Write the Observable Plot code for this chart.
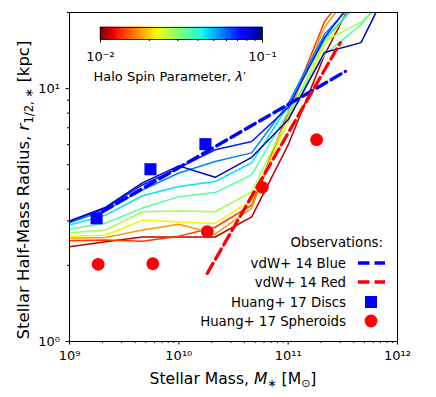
<!DOCTYPE html>
<html><head><meta charset="utf-8">
<script src="https://cdn.jsdelivr.net/npm/d3@7"></script>
<script src="https://cdn.jsdelivr.net/npm/@observablehq/plot@0.6"></script>
<style>
body{margin:0;background:#fff;}
#wrap{position:relative;width:436px;height:397px;font-family:"DejaVu Sans",sans-serif;}
#cbar{position:absolute;left:80px;top:26px;}
</style>
</head><body><div id="wrap"><div id="cbar"></div></div>
<script>
// ---- data ----
const masses = [1e9, 2.15e9, 4.64e9, 1e10, 2.15e10, 4.64e10, 1e11, 2.15e11, 4.64e11, 1e12];
const spins = [0.0112, 0.0141, 0.0178, 0.0224, 0.0282, 0.0355, 0.0447, 0.0562, 0.0708, 0.0891];
const radiusSpin1  = [2.37, 2.48, 2.59, 2.59, 2.59, 3.11, 5.99, 13.6, 25.9, 40];
const radiusSpin2  = [2.50, 2.52, 2.49, 2.61, 2.83, 3.46, 8.10, 18.4, 28.3, 40];
const radiusSpin3  = [2.56, 2.58, 2.76, 2.91, 2.66, 3.37, 7.89, 17.5, 27.1, 40];
const radiusSpin4  = [2.61, 2.63, 3.02, 2.97, 2.93, 3.63, 7.40, 14.9, 23.6, 40];
const radiusSpin5  = [2.69, 2.76, 3.26, 3.28, 3.26, 3.90, 7.67, 15.4, 18.3, 24.7];
const radiusSpin6  = [2.78, 2.94, 3.37, 3.74, 3.88, 4.56, 8.10, 13.6, 17.9, 27.1];
const radiusSpin7  = [2.89, 3.16, 3.77, 4.10, 4.29, 5.09, 8.56, 15.6, 22.5, 40];
const radiusSpin8  = [2.95, 3.31, 3.97, 4.64, 5.15, 5.57, 8.72, 16.4, 23.6, 40];
const radiusSpin9  = [2.98, 3.37, 4.16, 4.86, 5.73, 6.18, 8.41, 15.9, 24.7, 40];
const radiusSpin10 = [3.00, 3.40, 4.24, 4.95, 4.46, 5.35, 7.53, 13.9, 15.2, 29.7];
const radiusLines = [radiusSpin1, radiusSpin2, radiusSpin3, radiusSpin4, radiusSpin5,
                     radiusSpin6, radiusSpin7, radiusSpin8, radiusSpin9, radiusSpin10];

const discMass = [1.77e9, 5.5e9, 1.75e10];
const discRadius = [3.07, 4.80, 6.03];
const spheroidMass = [1.83e9, 5.78e9, 1.82e10, 5.8e10, 1.82e11];
const spheroidRadius = [2.02, 2.03, 2.72, 4.07, 6.28];
const vdwBlueMass = [2.0e9, 3.34e11];
const vdwBlueRadius = [3.26, 11.7];
const vdwRedMass = [1.82e10, 3.0e11];
const vdwRedRadius = [1.86, 15.2];

const xTicks = [1e9, 1e10, 1e11, 1e12];
const xTickLabels = ["10⁹", "10¹⁰", "10¹¹", "10¹²"];
const yTicks = [1, 10];
const yTickLabels = ["10⁰", "10¹"];
const cbTicks = [0.01, 0.1];
const cbTickLabels = ["10⁻²", "10⁻¹"];
const legendLabels = ["vdW+ 14 Blue", "vdW+ 14 Red", "Huang+ 17 Discs", "Huang+ 17 Spheroids"];

// ---- build tables ----
const modelRows = [];
spins.forEach((s, i) => masses.forEach((m, j) => modelRows.push({spin: s, mass: m, r: radiusLines[i][j]})));
const discs = discMass.map((m, i) => ({mass: m, r: discRadius[i]}));
const spheroids = spheroidMass.map((m, i) => ({mass: m, r: spheroidRadius[i]}));
const vdwBlue = vdwBlueMass.map((m, i) => ({mass: m, r: vdwBlueRadius[i]}));
const vdwRed = vdwRedMass.map((m, i) => ({mass: m, r: vdwRedRadius[i]}));

const minorX = [];
for (const d of [1e9, 1e10, 1e11]) for (let k = 2; k <= 9; k++) minorX.push(k * d);
const minorY = [2,3,4,5,6,7,8,9,20];
const minorCb = [0.02,0.03,0.04,0.05,0.06,0.07,0.08,0.09];

// matplotlib jet, reversed
const jr = d3.scaleLinear().domain([0,0.35,0.66,0.89,1]).range([0,0,1,1,0.5]).clamp(true);
const jg = d3.scaleLinear().domain([0,0.125,0.375,0.64,0.91,1]).range([0,0,1,1,0,0]).clamp(true);
const jb = d3.scaleLinear().domain([0,0.11,0.34,0.65,1]).range([0.5,1,1,0,0]).clamp(true);
const jetR = t => { const u = 1 - t; return d3.rgb(255*jr(u), 255*jg(u), 255*jb(u)).formatHex(); };
const colorScale = {type: "log", domain: [0.01, 0.1], interpolate: jetR};

const dash = "11.5,5";
const plot = Plot.plot({
  width: 436, height: 397,
  marginLeft: 69, marginRight: 39, marginTop: 12, marginBottom: 56,
  style: {fontFamily: "DejaVu Sans", fontSize: "13px", background: "white", color: "black"},
  x: {type: "log", domain: [1e9, 1e12]},
  y: {type: "log", domain: [1, 20]},
  color: colorScale,
  marks: [
    Plot.line(modelRows, {x: "mass", y: "r", z: "spin", stroke: "spin", strokeWidth: 1.5, clip: true}),
    Plot.line(vdwBlue, {x: "mass", y: "r", stroke: "#0000ff", strokeWidth: 3.3, strokeDasharray: dash, clip: true}),
    Plot.line(vdwRed, {x: "mass", y: "r", stroke: "#ff0000", strokeWidth: 3.3, strokeDasharray: dash, clip: true}),
    Plot.dot(discs, {x: "mass", y: "r", symbol: "square", r: 6.8, fill: "#0000ff", stroke: "none"}),
    Plot.dot(spheroids, {x: "mass", y: "r", symbol: "circle", r: 6.4, fill: "#ff0000", stroke: "none"}),
    Plot.axisX({ticks: minorX, tickSize: 2, tickFormat: () => "", label: null}),
    Plot.axisX({ticks: xTicks, tickSize: 3.5, tickPadding: 6, fontSize: 13, tickFormat: d => xTickLabels[xTicks.indexOf(d)], label: null}),
    Plot.axisY({ticks: minorY, tickSize: 2, tickFormat: () => "", label: null}),
    Plot.axisY({ticks: yTicks, tickSize: 3.5, tickPadding: 6, fontSize: 13, tickFormat: d => yTickLabels[yTicks.indexOf(d)], label: null}),
    Plot.frame({stroke: "black", strokeWidth: 1})
  ]
});
document.getElementById("wrap").insertBefore(plot, document.getElementById("cbar"));
const svg = d3.select(plot);

// axis labels
const xl = svg.append("text").attr("x", 233).attr("y", 384).attr("text-anchor", "middle")
  .style("font-size", "15.6px").attr("fill", "black");
xl.append("tspan").text("Stellar Mass, ");
xl.append("tspan").attr("font-style", "italic").text("M");
xl.append("tspan").style("font-size", "11px").attr("dy", 3).text("∗");
xl.append("tspan").attr("dy", -3).text(" [M");
xl.append("tspan").style("font-size", "11px").attr("dy", 3).text("⊙");
xl.append("tspan").attr("dy", -3).text("]");

const yl = svg.append("text").attr("transform", "translate(29,190) rotate(-90)").attr("text-anchor", "middle")
  .style("font-size", "16.5px").attr("fill", "black");
yl.append("tspan").text("Stellar Half-Mass Radius, ");
yl.append("tspan").attr("font-style", "italic").text("r");
yl.append("tspan").style("font-size", "11.6px").attr("dy", 3.6).text("1/2, ∗");
yl.append("tspan").attr("dy", -3.6).text(" [kpc]");

// legend
const lg = svg.append("g").style("font-size", "13.3px").attr("fill", "black");
lg.append("text").attr("x", 383).attr("y", 247).attr("text-anchor", "end").text("Observations:");
const rowsY = [263, 282, 302, 321];
legendLabels.forEach((t, i) =>
  lg.append("text").attr("x", 346).attr("y", rowsY[i] + 4.5).attr("text-anchor", "end").text(t));
lg.append("line").attr("x1", 358).attr("x2", 385).attr("y1", rowsY[0]).attr("y2", rowsY[0])
  .attr("stroke", "#0000ff").attr("stroke-width", 3.3).attr("stroke-dasharray", dash);
lg.append("line").attr("x1", 358).attr("x2", 385).attr("y1", rowsY[1]).attr("y2", rowsY[1])
  .attr("stroke", "#ff0000").attr("stroke-width", 3.3).attr("stroke-dasharray", dash);
lg.append("rect").attr("x", 365).attr("y", rowsY[2] - 6).attr("width", 12).attr("height", 12).attr("fill", "#0000ff");
lg.append("circle").attr("cx", 371).attr("cy", rowsY[3]).attr("r", 6.4).attr("fill", "#ff0000");

// colorbar
const cbBins = d3.range(160).map(i => ({a: Math.pow(10, -2 + i / 160), b: Math.pow(10, -2 + (i + 1) / 160)}));
cbBins.forEach(d => d.v = Math.sqrt(d.a * d.b));
const cb = Plot.plot({
  width: 202, height: 40, marginLeft: 20, marginRight: 20, marginTop: 1, marginBottom: 27,
  style: {fontFamily: "DejaVu Sans", fontSize: "13px", background: "transparent", color: "black", overflow: "visible"},
  x: {type: "log", domain: [0.01, 0.1]},
  y: {domain: [0, 1], axis: null},
  color: colorScale,
  marks: [
    Plot.rect(cbBins, {x1: "a", x2: "b", y1: 0, y2: 1, fill: "v", stroke: "v", strokeWidth: 0.6}),
    Plot.axisX({ticks: minorCb, tickSize: 2, tickFormat: () => "", label: null}),
    Plot.axisX({ticks: cbTicks, tickSize: 3.5, tickPadding: 9, fontSize: 13, tickFormat: d => cbTickLabels[cbTicks.indexOf(d)], label: null}),
    Plot.frame({stroke: "black", strokeWidth: 0.8})
  ]
});
document.getElementById("cbar").appendChild(cb);
const cl = svg.append("text").attr("x", 93.5).attr("y", 81).attr("text-anchor", "start")
  .style("font-size", "13px").attr("fill", "black");
cl.append("tspan").text("Halo Spin Parameter, ");
cl.append("tspan").attr("font-style", "italic").text("λ");
cl.append("tspan").text("′");
</script></body></html>
